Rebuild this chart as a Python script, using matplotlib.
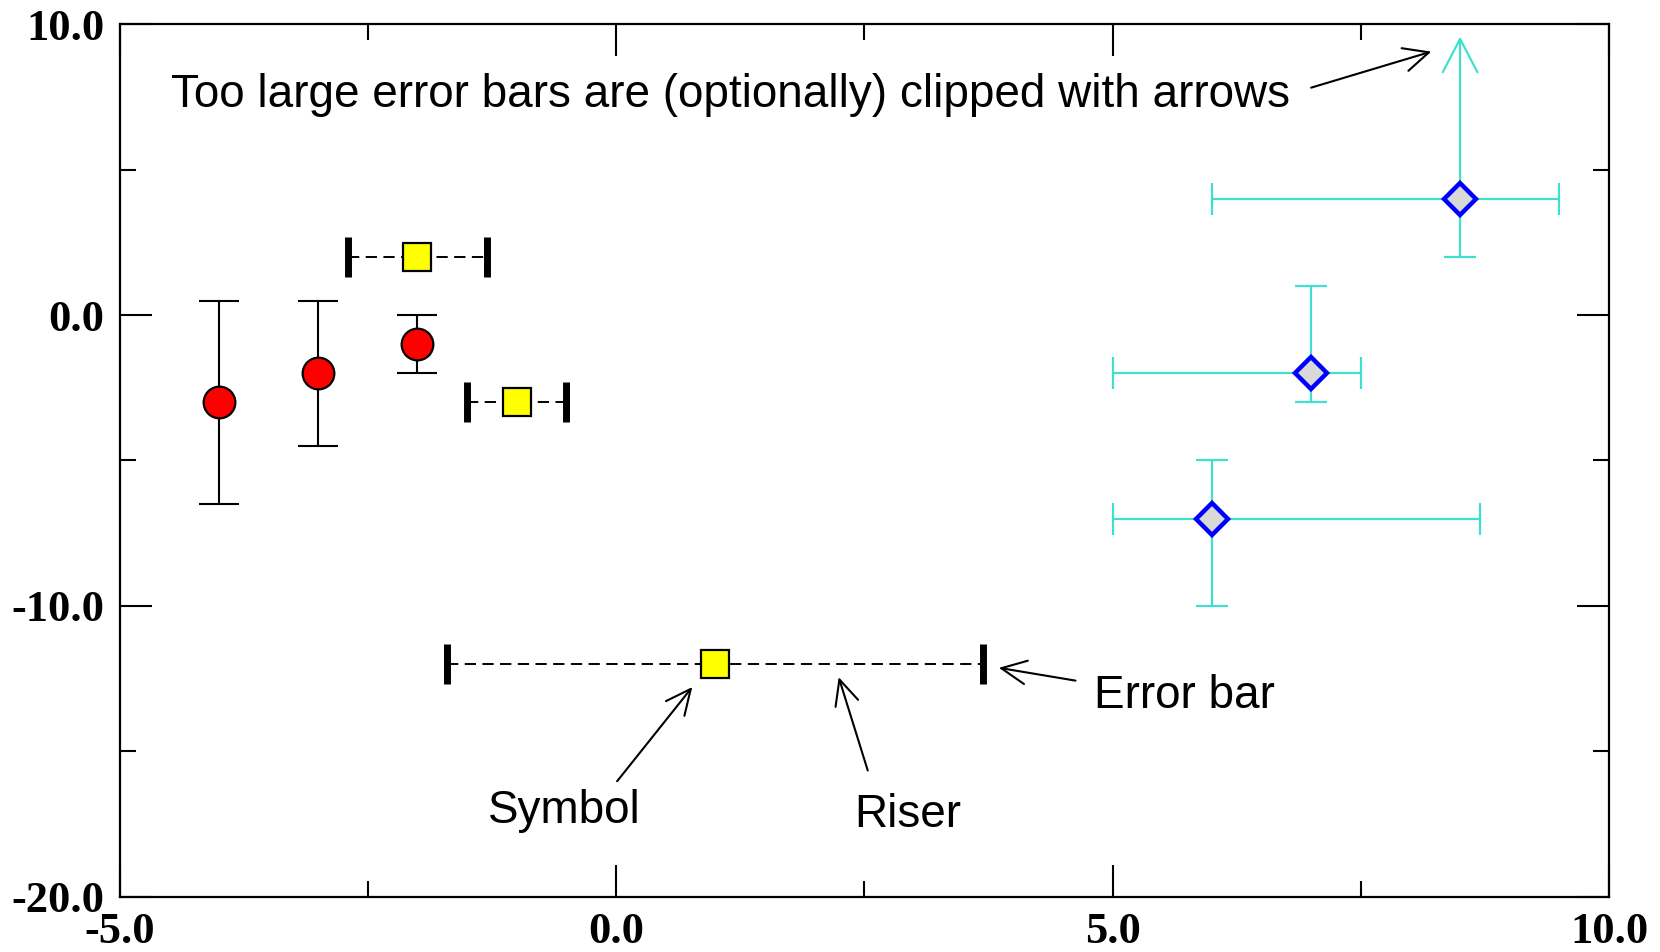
import matplotlib
matplotlib.use("Agg")
import matplotlib.pyplot as plt
import numpy as np

# ---- data ----
circ_x = [-4.0, -3.0, -2.0]
circ_y = [-3.0, -2.0, -1.0]
circ_yerr = [3.5, 2.5, 1.0]

sq_x = [-2.0, -1.0, 1.0]
sq_y = [2.0, -3.0, -12.0]
sq_xerr = [0.7, 0.5, 2.7]

dia_x = [8.5, 7.0, 6.0]
dia_y = [4.0, -2.0, -7.0]
dia_xerr_lo = [2.5, 2.0, 1.0]
dia_xerr_hi = [1.0, 0.5, 2.7]
dia_yerr_lo = [2.0, 1.0, 3.0]
dia_yerr_hi = [7.0, 3.0, 2.0]

x_ticks = [-5.0, 0.0, 5.0, 10.0]
y_ticks = [-20.0, -10.0, 0.0, 10.0]
x_tick_labels = ["-5.0", "0.0", "5.0", "10.0"]
y_tick_labels = ["-20.0", "-10.0", "0.0", "10.0"]

main_note = "Too large error bars are (optionally) clipped with arrows"
labels = ["Symbol", "Riser", "Error bar"]

CYAN = "#40e0d0"

fig = plt.figure(figsize=(16.6, 9.52), dpi=100)
ax = fig.add_axes([0.072, 0.0581, 0.8973, 0.9164])
XMIN, XMAX, YMIN, YMAX = -5.0, 10.0, -20.0, 10.0
ax.set_xlim(XMIN, XMAX)
ax.set_ylim(YMIN, YMAX)

# ---- red circles with black y error bars ----
ax.errorbar(circ_x, circ_y, yerr=circ_yerr, fmt="none", ecolor="black",
            elinewidth=1.5, capsize=14.3, capthick=1.5, zorder=3)
ax.plot(circ_x, circ_y, "o", ms=22.8, mfc="#ff0000", mec="black", mew=1.6,
        ls="none", zorder=5)

# ---- yellow squares with dashed x error bars, thick caps ----
eb = ax.errorbar(sq_x, sq_y, xerr=sq_xerr, fmt="none", ecolor="black",
                 elinewidth=1.4, capsize=14.4, capthick=5.0, zorder=3)
for lc in eb[2]:
    lc.set_linestyle((0, (5.8, 3.3)))
ax.plot(sq_x, sq_y, "s", ms=19.5, mfc="#ffff00", mec="black", mew=1.6,
        ls="none", zorder=5)

# ---- diamonds with cyan error bars (clipped with arrows) ----
clip_margin = 0.42
for x, y, xl, xh, yl, yh in zip(dia_x, dia_y, dia_xerr_lo, dia_xerr_hi,
                                dia_yerr_lo, dia_yerr_hi):
    ax.errorbar([x], [y], xerr=[[xl], [xh]], fmt="none", ecolor=CYAN,
                elinewidth=1.6, capsize=11.5, capthick=1.6, zorder=3)
    if y + yh > YMAX:
        ax.errorbar([x], [y], yerr=[[yl], [0]], fmt="none", ecolor=CYAN,
                    elinewidth=1.6, capsize=11.5, capthick=1.6, zorder=3)
        ax.annotate("", xy=(x, YMAX - clip_margin), xytext=(x, y),
                    arrowprops=dict(arrowstyle="->,head_length=2.4,head_width=1.25",
                                    color=CYAN, lw=1.6, shrinkA=0, shrinkB=0,
                                    mutation_scale=10),
                    zorder=3)
    else:
        ax.errorbar([x], [y], yerr=[[yl], [yh]], fmt="none", ecolor=CYAN,
                    elinewidth=1.6, capsize=11.5, capthick=1.6, zorder=3)
ax.plot(dia_x, dia_y, "D", ms=16.0, mfc="#d9d9d9", mec="#0000ff", mew=3.2,
        ls="none", zorder=5)

# ---- annotations ----
tfont = dict(family="Liberation Sans", size=33, color="black")
ax.text(-4.478, 7.17, main_note, ha="left", va="baseline", **tfont)
ax.text(-0.522, -17.45, labels[0], ha="center", va="baseline", **tfont)
ax.text(2.94, -17.59, labels[1], ha="center", va="baseline", **tfont)
ax.text(4.81, -13.52, labels[2], ha="left", va="baseline", **tfont)

arrow_kw = dict(arrowstyle="->,head_length=1.8,head_width=0.85", color="black",
                lw=1.5, shrinkA=0, shrinkB=0, mutation_scale=10)
ax.annotate("", xy=(8.21, 9.06), xytext=(7.0, 7.82), arrowprops=arrow_kw)
ax.annotate("", xy=(0.768, -12.79), xytext=(0.011, -16.03), arrowprops=arrow_kw)
ax.annotate("", xy=(2.242, -12.45), xytext=(2.535, -15.66), arrowprops=arrow_kw)
ax.annotate("", xy=(3.855, -12.13), xytext=(4.627, -12.57), arrowprops=arrow_kw)

# ---- axes styling ----
for sp in ax.spines.values():
    sp.set_linewidth(1.6)
    sp.set_color("black")
ax.set_xticks(x_ticks)
ax.set_xticklabels(x_tick_labels)
ax.set_yticks(y_ticks)
ax.set_yticklabels(y_tick_labels)
ax.set_xticks([-2.5, 2.5, 7.5], minor=True)
ax.set_yticks([-15.0, -5.0, 5.0], minor=True)
ax.tick_params(which="both", direction="in", top=True, right=True,
               width=1.5, color="black")
ax.tick_params(which="major", length=23, pad=11)
ax.tick_params(which="minor", length=11.5)
for lab in ax.get_xticklabels() + ax.get_yticklabels():
    lab.set_fontfamily("Liberation Serif")
    lab.set_fontweight("bold")
    lab.set_fontsize(32)

fig.savefig("out.png", dpi=100)
